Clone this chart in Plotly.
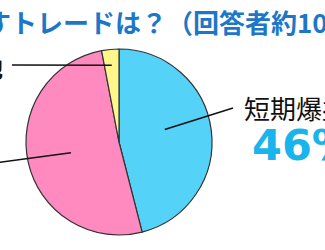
import numpy as np
import plotly.graph_objects as go

# Survey shares (%)
labels = ["短期爆益", "中長期", "その他"]
shares = [46, 51, 3]
colors = ["#55d2f7", "#ff8ac0", "#fff68c"]

W, H = 325, 250
CX, CY, R = 119, 142, 93  # pie centre / radius in pixels


def px(x):
    return x / W


def py(y):
    return 1 - y / H


fig = go.Figure(
    go.Pie(
        labels=labels,
        values=shares,
        sort=False,
        direction="clockwise",
        rotation=0,
        marker=dict(colors=colors, line=dict(color="#333333", width=1.2)),
        textinfo="none",
        hoverinfo="label+percent",
        domain=dict(x=[px(CX - R), px(CX + R)], y=[py(CY + R), py(CY - R)]),
    )
)

# slice mid-angles (clockwise from 12 o'clock)
vals = np.array(shares, dtype=float)
cum = np.cumsum(vals) / vals.sum() * 360
mid = cum - vals / vals.sum() * 180


def inner_point(i, frac, da=0.0):
    a = np.deg2rad(mid[i] + da)
    return CX + frac * R * np.sin(a), CY - frac * R * np.cos(a)


# leader lines: (slice index, radius fraction, angle offset, outer end in pixels)
leaders = [(0, 0.51, -8, (233, 108)), (2, 0.83, 0, (12, 65)), (1, 0.53, 0, (-5, 163))]
shapes = []
for i, frac, da, (ox, oy) in leaders:
    ix, iy = inner_point(i, frac, da)
    shapes.append(
        dict(
            type="line", xref="paper", yref="paper",
            x0=px(ix), y0=py(iy), x1=px(ox), y1=py(oy),
            line=dict(color="#111111", width=1.5),
        )
    )

annotations = [
    dict(
        text="<b>すトレードは？（回答者約100人）</b>",
        x=px(-17), y=py(22), xref="paper", yref="paper",
        xanchor="left", yanchor="middle", showarrow=False,
        font=dict(family="Noto Sans CJK JP", size=26, color="#1d77c9"),
    ),
    dict(
        text=labels[0],
        x=px(242), y=py(108), xref="paper", yref="paper",
        xanchor="left", yanchor="middle", showarrow=False,
        font=dict(family="Noto Sans CJK JP", size=26, color="#111111"),
    ),
    dict(
        text=f"<b>{shares[0]}%</b>",
        x=px(250), y=py(145), xref="paper", yref="paper",
        xanchor="left", yanchor="middle", showarrow=False,
        font=dict(family="DejaVu Sans", size=43, color="#19b4ec"),
    ),
    dict(
        text=f"<b>{labels[2]}</b>",
        x=px(5), y=py(66), xref="paper", yref="paper",
        xanchor="right", yanchor="middle", showarrow=False,
        font=dict(family="Noto Sans CJK JP", size=24, color="#111111"),
    ),
]

fig.update_layout(
    width=W, height=H,
    margin=dict(l=0, r=0, t=0, b=0),
    paper_bgcolor="white",
    showlegend=False,
    shapes=shapes,
    annotations=annotations,
)

fig.write_html("out.html")
